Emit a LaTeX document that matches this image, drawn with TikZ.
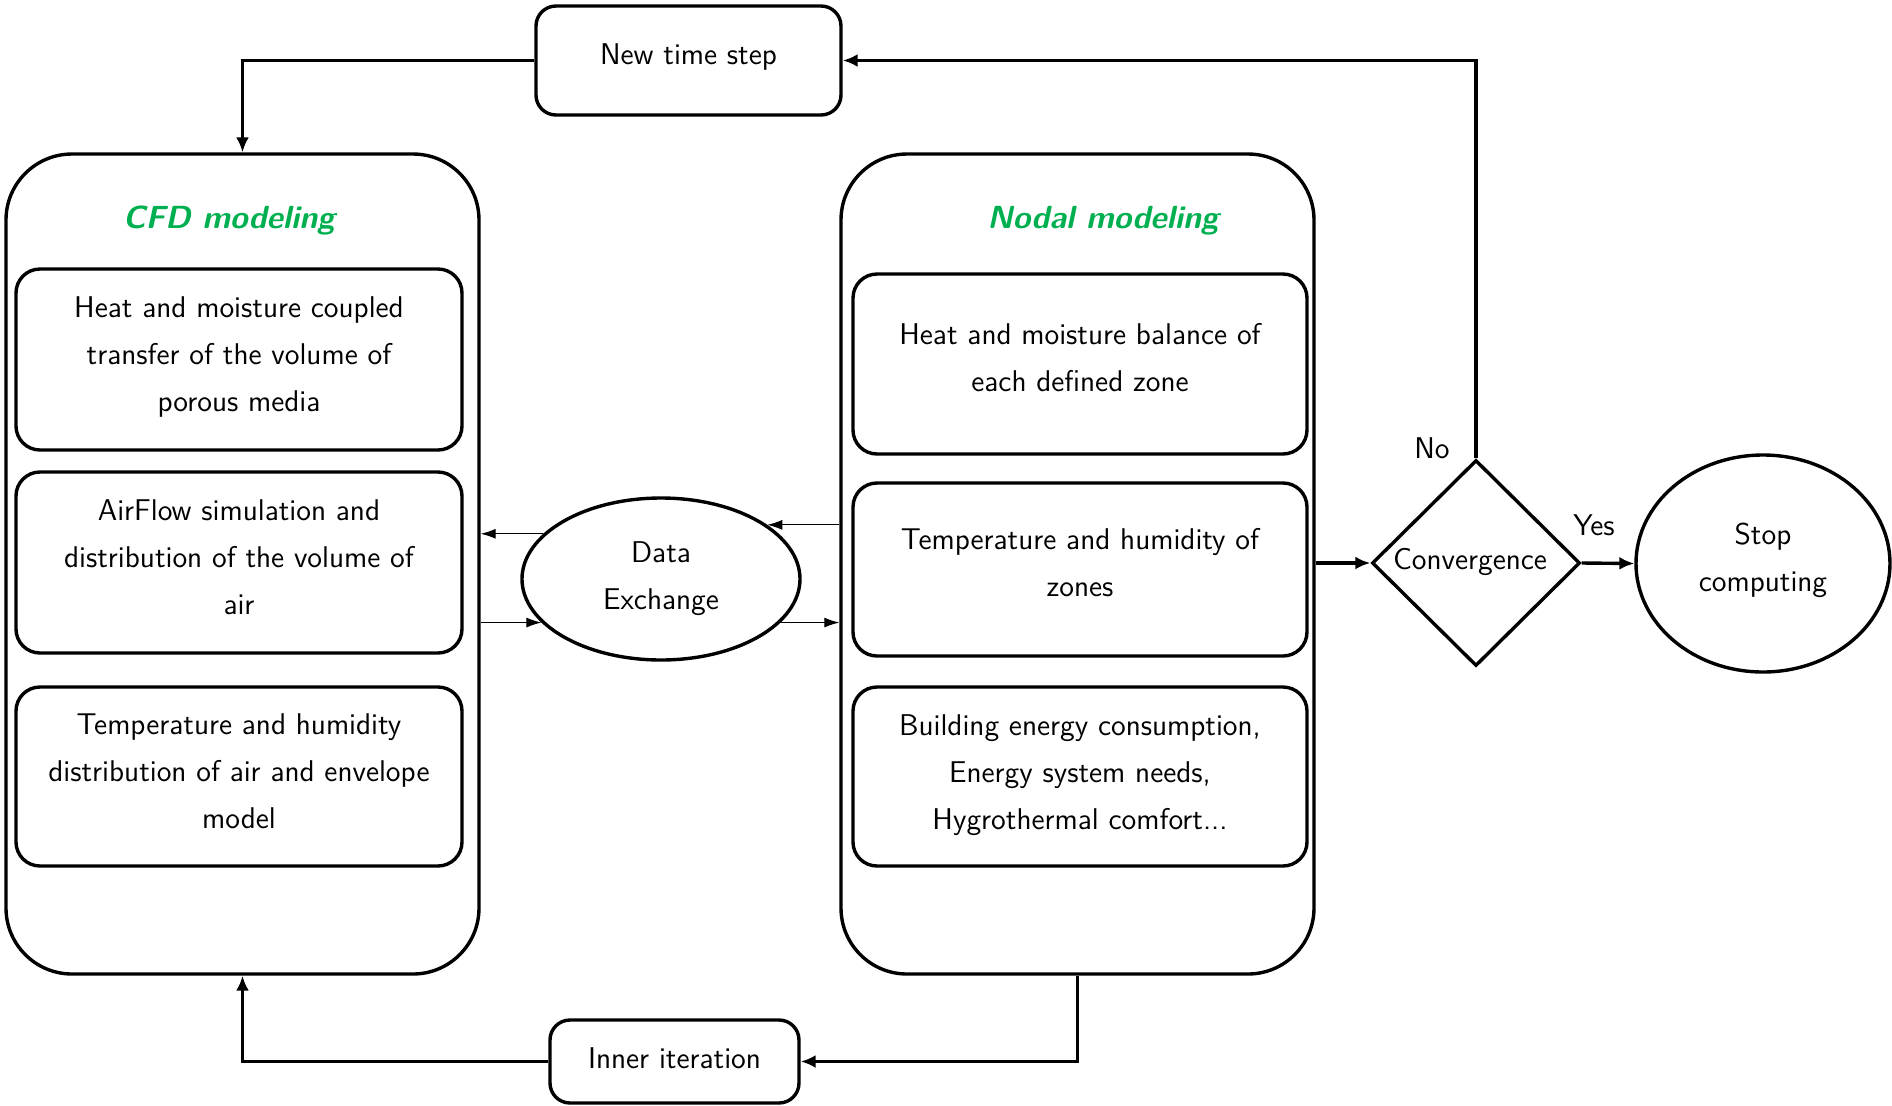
\documentclass[tikz,border=0pt]{standalone}
\usepackage{fontspec}
\usetikzlibrary{shapes.geometric,arrows.meta,calc}
\definecolor{titlegreen}{RGB}{0,176,80}
\newcommand\mainfs{\fontsize{15}{23.5}\selectfont\sffamily}
\newcommand\titlefs{\fontsize{16}{20}\selectfont\sffamily\bfseries\itshape}
\tikzset{
  outerbox/.style={draw, line width=1.7pt, rounded corners=33pt, minimum width=236.5pt, minimum height=410pt, inner sep=0pt},
  innerbox/.style={draw, line width=1.7pt, rounded corners=12pt, inner sep=0pt},
  smallbox/.style={draw, line width=1.7pt, rounded corners=10pt, inner sep=0pt},
  titletext/.style={font=\titlefs, text=titlegreen},
  plain/.style={font=\mainfs, align=center, inner sep=0pt},
  mainarrow/.style={line width=1.7pt, -{Latex[length=7.5pt,width=6.5pt]}},
  thinarrow/.style={line width=0.5pt, -{Latex[length=7.5pt,width=5pt]}},
}
\begin{document}
\begin{tikzpicture}[x=0.5pt,y=-0.5pt]
\useasboundingbox (0,0) rectangle (1892,1105);
% outer containers
\node[outerbox] (leftouter) at (242.5,564) {};
\node[outerbox] (rightouter) at (1077.5,564) {};
\node[titletext] (cfdtitle) at (229,220.6) {CFD modeling};
\node[titletext] (nodaltitle) at (1103,220.6) {Nodal modeling};
% left inner boxes
\node[innerbox, minimum width=223pt, minimum height=90.5pt] (L1) at (239,359.5) {};
\node[plain] (L1t) at (239,357.1) {Heat and moisture coupled\\transfer of the volume of\\porous media};
\node[innerbox, minimum width=223pt, minimum height=90.5pt] (L2) at (239,562.5) {};
\node[plain] (L2t) at (239,557.7) {AirFlow simulation and\\distribution of the volume of\\air};
\node[innerbox, minimum width=223pt, minimum height=89.5pt] (L3) at (239,776.5) {};
\node[plain] (L3t) at (239,771.7) {Temperature and humidity\\distribution of air and envelope\\model};
% right inner boxes
\node[innerbox, minimum width=227pt, minimum height=90pt] (R1) at (1080,364) {};
\node[plain] (R1t) at (1080,358) {Heat and moisture balance of\\each defined zone};
\node[innerbox, minimum width=227pt, minimum height=86.5pt] (R2) at (1080,569.5) {};
\node[plain] (R2t) at (1080,562.3) {Temperature and humidity of\\zones};
\node[innerbox, minimum width=227pt, minimum height=89.5pt] (R3) at (1080,776.5) {};
\node[plain] (R3t) at (1080,774.7) {Building energy consumption,\\Energy system needs,\\Hygrothermal comfort...};
% other nodes
\node[smallbox, minimum width=152.5pt, minimum height=54.5pt] (newstep) at (688.5,60.5) {};
\node[plain] (newstept) at (688.5,56.9) {New time step};
\node[smallbox, minimum width=124.5pt, minimum height=41.5pt] (inner) at (674.5,1061.5) {};
\node[plain] (innert) at (674.5,1057.9) {Inner iteration};
\node[ellipse, draw, line width=1.7pt, minimum width=139pt, minimum height=81pt, inner sep=0pt] (dataex) at (661,579) {};
\node[plain] (dataext) at (661,579) {Data\\Exchange};
\node[diamond, draw, line width=1.7pt, minimum width=104pt, minimum height=103pt, inner sep=0pt] (conv) at (1476,563) {};
\node[plain] (convtext) at (1470,562.4) {Convergence};
\node[ellipse, draw, line width=1.7pt, minimum width=127pt, minimum height=108.5pt, inner sep=0pt] (stop) at (1763,563.5) {};
\node[plain] (stopt) at (1763,559.9) {Stop\\computing};
\node[plain] (nolabel) at (1432,448) {No};
\node[plain] (yeslabel) at (1594,525) {Yes};
% main connectors
\draw[mainarrow] (newstep.west) -| (leftouter.north);
\draw[mainarrow] (conv.north) |- (newstep.east);
\draw[mainarrow] (rightouter.east |- conv.west) -- (conv.west);
\draw[mainarrow] (conv.east) -- (stop.west);
\draw[mainarrow] (rightouter.south) |- (inner.east);
\draw[mainarrow] (inner.west) -| (leftouter.south);
% data exchange connectors
\draw[thinarrow] (dataex.159) -- (dataex.159 -| leftouter.east);
\draw[thinarrow] (dataex.200 -| leftouter.east) -- (dataex.200);
\draw[thinarrow] (dataex.27 -| rightouter.west) -- (dataex.27);
\draw[thinarrow] (dataex.340) -- (dataex.340 -| rightouter.west);
\end{tikzpicture}
\end{document}
